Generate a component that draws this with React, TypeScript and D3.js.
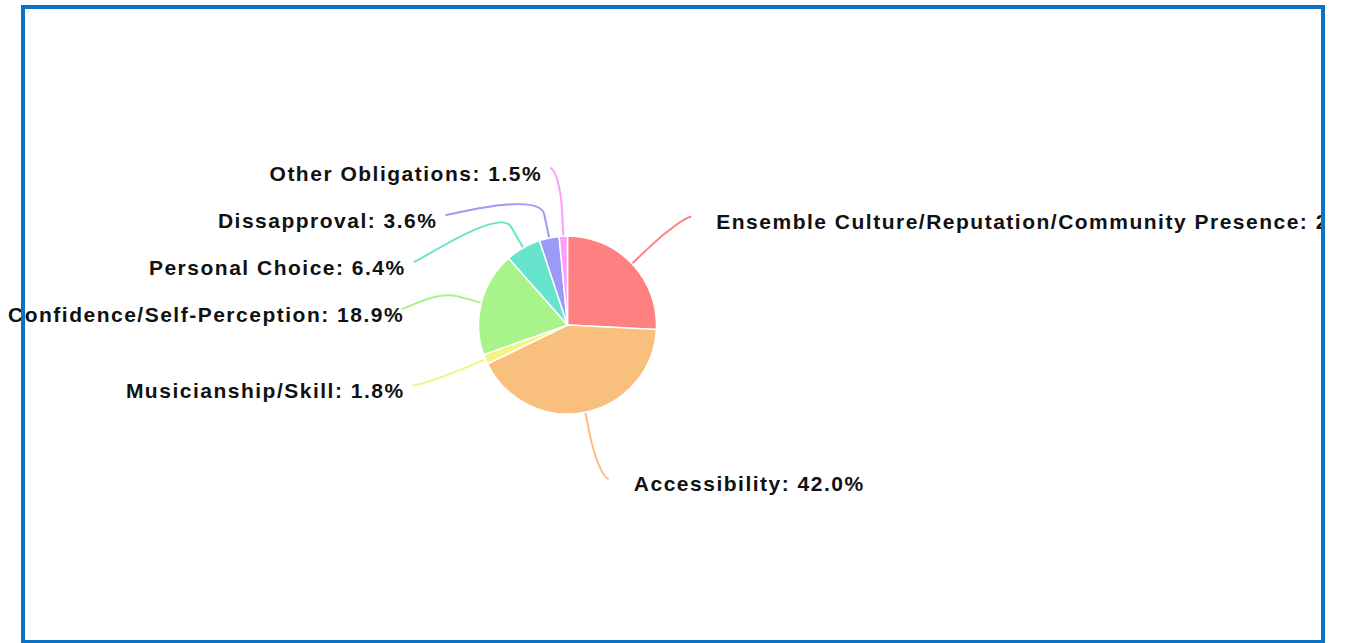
import React, { useEffect, useRef } from 'react';
import * as d3 from 'd3';

// Reasons (slice order clockwise from 12 o'clock) and their share in percent
const categories = [
  'Ensemble Culture/Reputation/Community Presence',
  'Accessibility',
  'Musicianship/Skill',
  'Confidence/Self-Perception',
  'Personal Choice',
  'Dissapproval',
  'Other Obligations',
];
const shares = [25.8, 42.0, 1.8, 18.9, 6.4, 3.6, 1.5];
const palette = ['#ff8080', '#f9c07d', '#f4f386', '#a8f48b', '#66e5cc', '#9a9af7', '#ff9cff'];

const W = 1366;
const H = 643;

interface Slice {
  name: string;
  value: number;
  color: string;
}

interface LabelBox {
  arc: d3.PieArcDatum<Slice>;
  mid: number;
  left: boolean;
  natX: number;
  natY: number;
  x: number;
  y: number;
}

// spread labels of one side so they don't overlap, keeping them inside [top, bottom]
function distribute(list: LabelBox[], top: number, bottom: number, size: number) {
  type Group = { items: LabelBox[]; sum: number; pos: number; size: number };
  const place = (gr: Group) => {
    const mean = gr.sum / gr.items.length;
    let p = mean - gr.size / 2;
    p = Math.min(p, bottom + size / 2 - gr.size);
    p = Math.max(p, top - size / 2);
    gr.pos = p;
  };
  const groups: Group[] = list.map(l => ({ items: [l], sum: l.natY, pos: 0, size }));
  groups.forEach(place);
  let merged = true;
  while (merged) {
    merged = false;
    for (let i = 1; i < groups.length; i++) {
      const a = groups[i - 1];
      const b = groups[i];
      if (a.pos + a.size > b.pos + 1e-6) {
        a.items = a.items.concat(b.items);
        a.sum += b.sum;
        a.size += b.size;
        groups.splice(i, 1);
        place(a);
        merged = true;
        break;
      }
    }
  }
  groups.forEach(gr => {
    gr.items.forEach((it, k) => {
      it.y = gr.pos + size / 2 + k * size;
    });
  });
}

const App: React.FC = () => {
  const svgRef = useRef<SVGSVGElement>(null);

  useEffect(() => {
    const svg = d3.select(svgRef.current);
    svg.selectAll('*').remove();

    const cx = 567.5;
    const cy = 325;
    const r = 89;
    const labelDistance = 68;
    const ringR = r + labelDistance;
    const breakOffset = 24;
    const connectorPadding = 10;
    const boxH = 47;

    const data: Slice[] = categories.map((name, i) => ({ name, value: shares[i], color: palette[i] }));
    const arcs = d3.pie<Slice>().value(d => d.value).sort(null)(data);
    const arcGen = d3.arc<d3.PieArcDatum<Slice>>().innerRadius(0).outerRadius(r);

    svg.append('defs')
      .append('clipPath')
      .attr('id', 'plot-clip')
      .append('rect')
      .attr('x', 0)
      .attr('y', 0)
      .attr('width', 1322)
      .attr('height', H);

    const g = svg.append('g').attr('clip-path', 'url(#plot-clip)');
    const linesG = g.append('g');
    const pieG = g.append('g').attr('transform', `translate(${cx},${cy})`);
    const labelsG = g.append('g');

    pieG.selectAll('path')
      .data(arcs)
      .enter()
      .append('path')
      .attr('d', arcGen)
      .attr('fill', d => d.data.color)
      .attr('stroke', '#fff')
      .attr('stroke-width', 1.5)
      .attr('stroke-linejoin', 'round');

    // Label layout
    const labs: LabelBox[] = arcs.map(a => {
      const mid = (a.startAngle + a.endAngle) / 2;
      return {
        arc: a,
        mid,
        left: Math.sin(mid) < 0,
        natX: cx + Math.sin(mid) * ringR,
        natY: cy - Math.cos(mid) * ringR,
        x: 0,
        y: 0,
      };
    });
    const top = cy - ringR;
    const bottom = cy + ringR;
    [true, false].forEach(side => {
      const list = labs.filter(l => l.left === side).sort((p, q) => p.natY - q.natY);
      distribute(list, top, bottom, boxH);
    });
    labs.forEach(l => {
      const dir = l.left ? -1 : 1;
      const atBound = Math.abs(l.y - top) < 2 || Math.abs(l.y - bottom) < 2;
      let x: number;
      if (atBound) {
        x = l.natX;
      } else {
        const dy = Math.max(-ringR, Math.min(ringR, l.y - cy));
        x = cx + dir * Math.sqrt(ringR * ringR - dy * dy);
      }
      l.x = x + dir * connectorPadding;
    });

    labs.forEach(l => {
      const dir = l.left ? -1 : 1;
      const text = labelsG.append('text')
        .attr('x', l.left ? l.x - 8 : l.x + 25)
        .attr('y', l.y + 12.5)
        .attr('text-anchor', l.left ? 'end' : 'start')
        .style('font-family', '"Liberation Sans", Arial, sans-serif')
        .style('font-size', '21px')
        .style('font-weight', 'bold')
        .style('letter-spacing', '1.5px')
        .style('fill', '#111')
        .text(`${l.arc.data.name}: ${l.arc.data.value.toFixed(1)}%`);

      let endX = l.x;
      if (l.left) {
        const node = text.node() as SVGTextElement;
        const w = node.getComputedTextLength();
        const anchorX = l.x - 8;
        const start = anchorX - w;
        if (start < 8) {
          const shift = 8 - start;
          text.attr('x', anchorX + shift);
          endX = Math.max(endX, anchorX + shift - 6);
        }
      }

      const sinA = Math.sin(l.mid);
      const cosA = Math.cos(l.mid);
      const touch = [cx + sinA * r, cy - cosA * r];
      const brk = [cx + sinA * (r + breakOffset), cy - cosA * (r + breakOffset)];
      const cp2 = [2 * brk[0] - touch[0], 2 * brk[1] - touch[1]];
      const cp1 = [endX - dir * 5, l.y];
      const path = d3.path();
      path.moveTo(endX, l.y);
      path.bezierCurveTo(cp1[0], cp1[1], cp2[0], cp2[1], brk[0], brk[1]);
      path.lineTo(touch[0], touch[1]);

      linesG.append('path')
        .attr('d', path.toString())
        .attr('fill', 'none')
        .attr('stroke', l.arc.data.color)
        .attr('stroke-width', 2);
    });

    // Chart border
    svg.append('rect')
      .attr('x', 23)
      .attr('y', 7)
      .attr('width', 1300)
      .attr('height', 635)
      .attr('fill', 'none')
      .attr('stroke', '#0b72c4')
      .attr('stroke-width', 4);
  }, []);

  return (
    <svg
      ref={svgRef}
      width={W}
      height={H}
      style={{ position: 'absolute', left: 0, top: 0, display: 'block', background: '#fff' }}
    />
  );
};

export default App;
